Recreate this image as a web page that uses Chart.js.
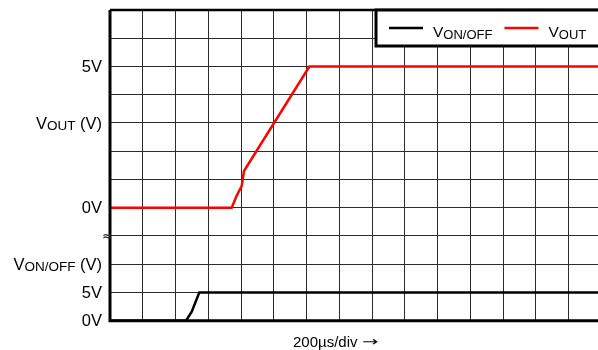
<!DOCTYPE html>
<html>
<head>
<meta charset="utf-8">
<script src="https://cdn.jsdelivr.net/npm/chart.js@4/dist/chart.umd.min.js"></script>
<style>
  html, body { margin: 0; padding: 0; background: #fff; overflow: hidden; }
  #wrap { width: 610px; height: 350px; }
</style>
</head>
<body>
<div id="wrap"><canvas id="scope" width="610" height="350"></canvas></div>
<script>
// Time axis, microseconds (200us per division, 15 divisions)
const timeMax = 3000;
const timeStep = 200;

// VOUT trace (V, 1 V per division)
const outTime = [0, 743, 773, 804, 818, 1217, 3000];
const outVolts = [0, 0, 0.42, 0.77, 1.3, 5, 5];

// VON/OFF trace (V, 5 V per division)
const enTime = [0, 464, 499, 545, 3000];
const enVolts = [0, 0, 1.6, 5, 5];

// Left-hand labels: [axis, value, main text, subscript, suffix]
const axisLabels = [
  ['yOut', 5, '5V', '', ''],
  ['yOut', 3, 'V', 'OUT', ' (V)'],
  ['yOut', 0, '0V', '', ''],
  ['yEn', 10, 'V', 'ON/OFF', ' (V)'],
  ['yEn', 5, '5V', '', ''],
  ['yEn', 0, '0V', '', ''],
];
const timeTitle = '200\u00b5s/div';

const FONT = 'Liberation Sans, Arial, sans-serif';

function toPoints(xs, ys) {
  return xs.map((x, i) => ({ x, y: ys[i] }));
}

// draws "V" + smaller subscript + suffix, left or right aligned at x
function subText(ctx, x, y, main, sub, suffix, size, subSize, align, drop) {
  ctx.font = size + 'px ' + FONT;
  const wMain = ctx.measureText(main).width;
  const wSuffix = ctx.measureText(suffix).width;
  ctx.font = subSize + 'px ' + FONT;
  const wSub = ctx.measureText(sub).width;
  const left = align === 'right' ? x - (wMain + wSub + wSuffix) : x;
  ctx.textAlign = 'left';
  ctx.textBaseline = 'alphabetic';
  ctx.font = size + 'px ' + FONT;
  ctx.fillText(main, left, y);
  ctx.font = subSize + 'px ' + FONT;
  ctx.fillText(sub, left + wMain, y + drop);
  ctx.font = size + 'px ' + FONT;
  ctx.fillText(suffix, left + wMain + wSub, y);
  return wMain + wSub + wSuffix;
}

const scopeDecor = {
  id: 'scopeDecor',
  afterDraw(chart) {
    const { ctx, chartArea: a, scales } = chart;
    ctx.save();

    // frame: heavy left, bottom and top edges
    ctx.strokeStyle = '#000';
    ctx.lineWidth = 3;
    ctx.beginPath();
    ctx.moveTo(a.left, a.top);
    ctx.lineTo(a.left, a.bottom);
    ctx.lineTo(chart.width, a.bottom);
    ctx.stroke();
    ctx.lineWidth = 2.5;
    ctx.beginPath();
    ctx.moveTo(a.left, a.top);
    ctx.lineTo(chart.width, a.top);
    ctx.stroke();

    // axis break mark between the two traces
    const yBreak = scales.yOut.getPixelForValue(-1);
    ctx.fillStyle = '#333';
    ctx.font = 'bold 12px DejaVu Sans';
    ctx.textAlign = 'center';
    ctx.textBaseline = 'middle';
    ctx.fillText('\u2248', a.left - 3, yBreak + 1);

    // left labels
    ctx.fillStyle = '#000';
    axisLabels.forEach(([axis, v, main, sub, suffix]) => {
      const y = scales[axis].getPixelForValue(v);
      subText(ctx, a.left - 8, y + 5.6, main, sub, suffix, 16.5, 13.5, 'right', 1.5);
    });

    // time axis title, arrow stretched like the long symbol arrow
    const tx = 293, ty = 347;
    ctx.font = '15px ' + FONT;
    ctx.textAlign = 'left';
    ctx.textBaseline = 'alphabetic';
    ctx.fillText(timeTitle, tx, ty);
    const tw = ctx.measureText(timeTitle + ' ').width;
    ctx.save();
    ctx.translate(tx + tw, ty - 4);
    ctx.scale(1.5, 1);
    ctx.font = '13px DejaVu Sans';
    ctx.textBaseline = 'middle';
    ctx.fillText('\u2192', 0, 0);
    ctx.restore();

    // legend box
    const bx = 376, by = a.top, bh = 36;
    ctx.fillStyle = '#fff';
    ctx.fillRect(bx, by, chart.width - bx + 10, bh);
    ctx.strokeStyle = '#000';
    ctx.lineWidth = 3;
    ctx.strokeRect(bx, by, chart.width - bx + 10, bh);

    let lx = 389;
    chart.data.datasets.forEach(ds => {
      ctx.strokeStyle = ds.borderColor;
      ctx.lineWidth = 2.5;
      ctx.beginPath();
      ctx.moveTo(lx, by + 18);
      ctx.lineTo(lx + 34, by + 18);
      ctx.stroke();
      ctx.fillStyle = '#000';
      const w = subText(ctx, lx + 44, by + 26.5, ds.label.slice(0, 1), ds.label.slice(1), '', 15.5, 13, 'left', 2);
      lx += 44 + w + 12;
    });

    ctx.restore();
  }
};

const gridColor = '#2b2b2b';

new Chart(document.getElementById('scope'), {
  type: 'line',
  data: {
    datasets: [
      {
        label: 'VON/OFF',
        data: toPoints(enTime, enVolts),
        yAxisID: 'yEn',
        borderColor: '#000000',
        borderWidth: 2.5,
        pointRadius: 0,
        tension: 0,
      },
      {
        label: 'VOUT',
        data: toPoints(outTime, outVolts),
        yAxisID: 'yOut',
        borderColor: '#ff0000',
        borderWidth: 2.5,
        pointRadius: 0,
        tension: 0,
      },
    ],
  },
  options: {
    responsive: false,
    animation: false,
    events: [],
    layout: {
      padding: { left: 110, right: 8.6, top: 10, bottom: 29.3 },
    },
    scales: {
      x: {
        type: 'linear',
        min: 0,
        max: timeMax,
        afterFit: s => { s.height = 0; },
        ticks: { display: false, stepSize: timeStep },
        grid: { color: gridColor, lineWidth: 1, drawTicks: false },
        border: { display: false },
      },
      yOut: {
        type: 'linear',
        position: 'left',
        min: -4,
        max: 7,
        afterFit: s => { s.width = 0; },
        ticks: { display: false, stepSize: 1 },
        grid: { color: gridColor, lineWidth: 1, drawTicks: false },
        border: { display: false },
      },
      yEn: {
        type: 'linear',
        position: 'left',
        display: false,
        min: 0,
        max: 55,
      },
    },
    plugins: {
      legend: { display: false },
      tooltip: { enabled: false },
    },
  },
  plugins: [scopeDecor],
});
</script>
</body>
</html>
